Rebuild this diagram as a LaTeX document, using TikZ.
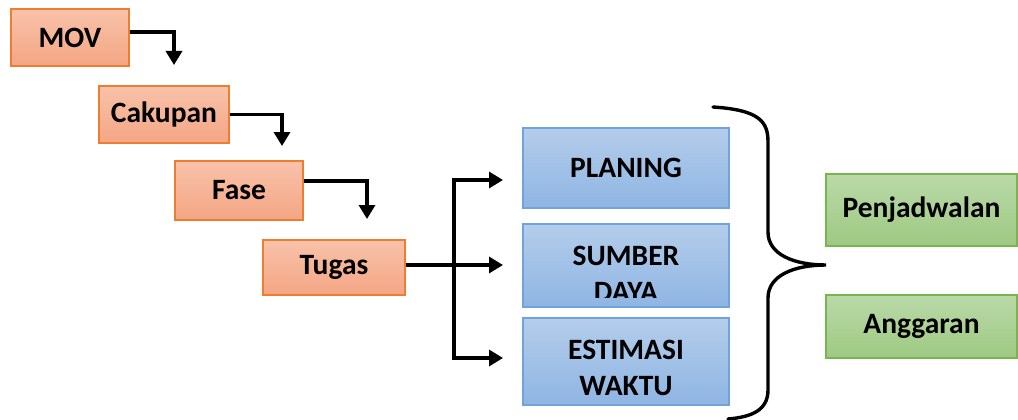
\documentclass[tikz,border=0pt]{standalone}
\usepackage{fontspec}
\setmainfont{Carlito}
\usetikzlibrary{arrows.meta}
\definecolor{orTop}{RGB}{248,194,170}
\definecolor{orBot}{RGB}{244,166,132}
\definecolor{orLine}{RGB}{237,125,49}
\definecolor{blTop}{RGB}{180,205,235}
\definecolor{blBot}{RGB}{143,181,227}
\definecolor{blLine}{RGB}{112,163,218}
\definecolor{grTop}{RGB}{186,217,168}
\definecolor{grBot}{RGB}{158,201,130}
\definecolor{grLine}{RGB}{122,180,80}
\begin{document}
\begin{tikzpicture}[x=1pt,y=-1pt,
    every node/.style={font=\fontsize{29.5}{36}\selectfont\bfseries, inner sep=0pt},
    orbox/.style={draw=orLine, line width=1.2pt, top color=orTop, bottom color=orBot},
    blbox/.style={draw=blLine, line width=1.2pt, top color=blTop, bottom color=blBot},
    grbox/.style={draw=grLine, line width=1.2pt, top color=grTop, bottom color=grBot},
    conn/.style={line width=3.4pt},
    arr/.style={line width=3.4pt, -{Triangle[length=14pt,width=16pt]}},
    brace/.style={line width=3.4pt, line cap=round}]
  \useasboundingbox (0,0) rectangle (1018,420);
  % tahapan
  \node[orbox, minimum width=118, minimum height=57] (mov) at (70,37.5) {MOV};
  \node[orbox, minimum width=130, minimum height=57] (cak) at (164,114.5) {Cakupan};
  \node[orbox, minimum width=128, minimum height=59] (fase) at (239,190.5) {Fase};
  \node[orbox, minimum width=142, minimum height=55] (tug) at (334,267.5) {Tugas};
  \coordinate (t1) at (174,65);
  \coordinate (t2) at (282,146);
  \coordinate (t3) at (367,219);
  \draw[arr] ([yshift=5.5pt]mov.east) -| (t1);
  \draw[arr] (cak.east) -| (t2);
  \draw[arr] ([yshift=9.5pt]fase.east) -| (t3);
  % cabang
  \coordinate (j) at (454,265);
  \coordinate (a1) at (503,180);
  \coordinate (a2) at (503,265);
  \coordinate (a3) at (503,358);
  \draw[conn] ([yshift=2.5pt]tug.east) -- (j);
  \draw[arr] (j) |- (a1);
  \draw[arr] (j) -- (a2);
  \draw[arr] (j) |- (a3);
  % kotak biru
  \node[blbox, minimum width=206, minimum height=80] (pla) at (626,168) {PLANING};
  \node[blbox, minimum width=206, minimum height=83] (sd) at (626,265.5) {};
  \node[blbox, minimum width=206, minimum height=87] (est) at (626,361.5) {};
  \begin{scope}
    \clip (sd.north west) rectangle ([yshift=10pt]sd.south east);
    \node[align=center] (sdt) at ([yshift=-8.5pt]sd.center) {SUMBER\\DAYA};
  \end{scope}
  \begin{scope}
    \clip (est.north west) rectangle ([yshift=10pt]est.south east);
    \node[align=center] (estt) at ([yshift=-6.5pt]est.center) {ESTIMASI\\WAKTU};
  \end{scope}
  % kurung
  \draw[brace] (713,107) .. controls (760,110) and (768,122) .. (768,142)
    -- (768,232) .. controls (768,255) and (795,265) .. (826,265)
    .. controls (795,265) and (768,275) .. (768,298)
    -- (768,390) .. controls (768,410) and (752,417) .. (728,419);
  % hasil
  \node[grbox, minimum width=191, minimum height=72] (jad) at (921.5,210) {Penjadwalan};
  \node[grbox, minimum width=191, minimum height=63] (ang) at (921.5,326.5) {Anggaran};
\end{tikzpicture}
\end{document}
